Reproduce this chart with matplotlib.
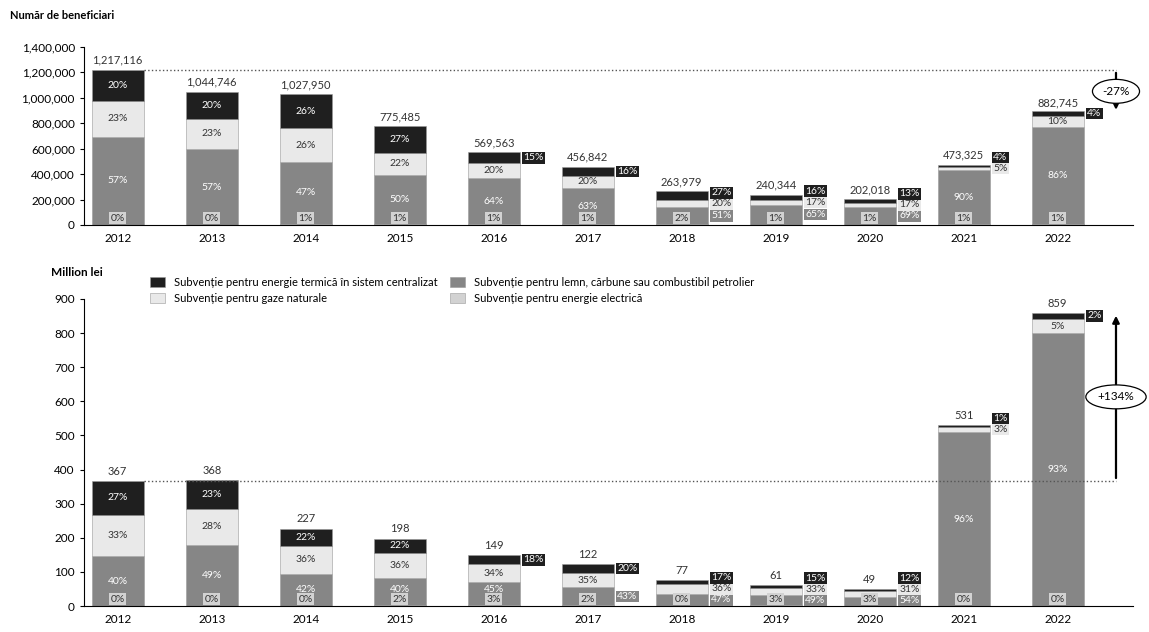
import matplotlib.pyplot as plt
import numpy as np
from matplotlib.ticker import FuncFormatter

plt.rcParams['font.family'] = ['Lato', 'DejaVu Sans']

years = ['2012', '2013', '2014', '2015', '2016', '2017', '2018', '2019', '2020', '2021', '2022']

# Numar de beneficiari (total) si structura in %
ben_total = [1217116, 1044746, 1027950, 775485, 569563, 456842, 263979, 240344, 202018, 473325, 882745]
ben_elec = [0, 0, 1, 1, 1, 1, 2, 1, 1, 1, 1]
ben_lemn = [57, 57, 47, 50, 64, 63, 51, 65, 69, 90, 86]
ben_gaze = [23, 23, 26, 22, 20, 20, 20, 17, 17, 5, 10]
ben_term = [20, 20, 26, 27, 15, 16, 27, 16, 13, 4, 4]

# Milioane lei (total) si structura in %
mon_total = [367, 368, 227, 198, 149, 122, 77, 61, 49, 531, 859]
mon_elec = [0, 0, 0, 2, 3, 2, 0, 3, 3, 0, 0]
mon_lemn = [40, 49, 42, 40, 45, 43, 47, 49, 54, 96, 93]
mon_gaze = [33, 28, 36, 36, 34, 35, 36, 33, 31, 3, 5]
mon_term = [27, 23, 22, 22, 18, 20, 17, 15, 12, 1, 2]

names = ['Subvenție pentru energie electrică',
         'Subvenție pentru lemn, cărbune sau combustibil petrolier',
         'Subvenție pentru gaze naturale',
         'Subvenție pentru energie termică în sistem centralizat']
colors = ['#d2d2d2', '#868686', '#e9e9e9', '#1f1f1f']
txt_colors = ['#333333', 'white', '#333333', 'white']

W = 0.55


def draw_panel(ax, totals, parts, px):
    # px = unitati de date pe pixel (pentru asezarea etichetelor)
    min_h = 11 * px
    gap = 11 * px
    low = 17 * px
    x = np.arange(len(years))
    totals = np.array(totals, dtype=float)
    bottom = np.zeros(len(x))
    segs = []
    for k, pcts in enumerate(parts):
        h = totals * np.array(pcts) / 100
        ax.bar(x, h, W, bottom=bottom, color=colors[k], label=names[k],
               edgecolor='#9a9a9a', linewidth=0.4)
        segs.append((bottom.copy(), h))
        bottom = bottom + h

    for i in range(len(x)):
        # energie electrica: eticheta pe axa
        ax.annotate(f'{parts[0][i]}%', (x[i], 0), xytext=(0, 5), textcoords='offset points',
                    ha='center', va='center', fontsize=7.5, color='#333333',
                    bbox=dict(boxstyle='square,pad=0.15', fc=colors[0], ec='none'))
        outside = []
        for k in range(1, 4):
            b, h = segs[k][0][i], segs[k][1][i]
            yc = b + h / 2
            y = max(yc, low)
            if h >= min_h and y + min_h / 2 <= b + h:
                ax.text(x[i], y, f'{parts[k][i]}%', ha='center', va='center',
                        fontsize=7.5, color=txt_colors[k])
            else:
                outside.append((yc, k))
        prev = -1e12
        for yc, k in sorted(outside):
            y = max(yc, prev + gap, 6 * px)
            prev = y
            ax.text(x[i] + W / 2 + 0.04, y, f'{parts[k][i]}%', ha='left', va='center',
                    fontsize=7.5, color=txt_colors[k],
                    bbox=dict(boxstyle='square,pad=0.12', fc=colors[k], ec='none'))
        lbl = f'{int(totals[i]):,}' if totals.max() > 10000 else f'{int(totals[i])}'
        ax.annotate(lbl, (x[i], totals[i]), xytext=(0, 3), textcoords='offset points',
                    ha='center', va='bottom', fontsize=8, color='#333333')

    ax.set_xticks(x)
    ax.set_xticklabels(years, fontsize=8.5)
    ax.tick_params(axis='x', length=0, pad=6)
    ax.tick_params(axis='y', length=3, labelsize=8.5)
    ax.spines['top'].set_visible(False)
    ax.spines['right'].set_visible(False)
    ax.set_xlim(-0.36, 10.8)
    return x, totals


fig = plt.figure(figsize=(11.49, 6.32), dpi=100)

ax1 = fig.add_axes([0.073, 0.644, 0.913, 0.282])
x, t1 = draw_panel(ax1, ben_total, [ben_elec, ben_lemn, ben_gaze, ben_term], 1400000 / 178)
ax1.set_ylim(0, 1400000)
ax1.set_yticks(np.arange(0, 1400001, 200000))
ax1.yaxis.set_major_formatter(FuncFormatter(lambda v, p: f'{int(v):,}'))

ax2 = fig.add_axes([0.073, 0.041, 0.913, 0.486])
x, t2 = draw_panel(ax2, mon_total, [mon_elec, mon_lemn, mon_gaze, mon_term], 900 / 307)
ax2.set_ylim(0, 900)
ax2.set_yticks(np.arange(0, 901, 100))

# linii de referinta + variatie 2012 -> 2022
for ax, t in [(ax1, t1), (ax2, t2)]:
    ax.hlines(t[0], x[0] + W / 2, 10.62, colors='#555555', linestyles=':', linewidth=1)
    ax.annotate('', xy=(10.62, t[-1]), xytext=(10.62, t[0]),
                arrowprops=dict(arrowstyle='-|>', color='black', lw=1.6), annotation_clip=False)
    ch = round((t[-1] / t[0] - 1) * 100)
    ax.text(10.62, (t[0] + t[-1]) / 2, f'{ch:+d}%', ha='center', va='center', fontsize=8.5,
            bbox=dict(boxstyle='ellipse,pad=0.25', fc='white', ec='black', lw=0.9),
            clip_on=False)

fig.text(0.009, 0.976, 'Număr de beneficiari', fontsize=8, weight='bold', va='center')
fig.text(0.044, 0.569, 'Million lei', fontsize=8.5, weight='bold', va='center')

h, l = ax1.get_legend_handles_labels()
order = [3, 2, 1, 0]
fig.legend([h[o] for o in order], [l[o] for o in order], loc='upper left',
           bbox_to_anchor=(0.122, 0.578), ncol=2, frameon=False, fontsize=8,
           handlelength=1.3, handleheight=1.0, labelspacing=0.45, columnspacing=1.2)

fig.savefig('out.png', dpi=100)
